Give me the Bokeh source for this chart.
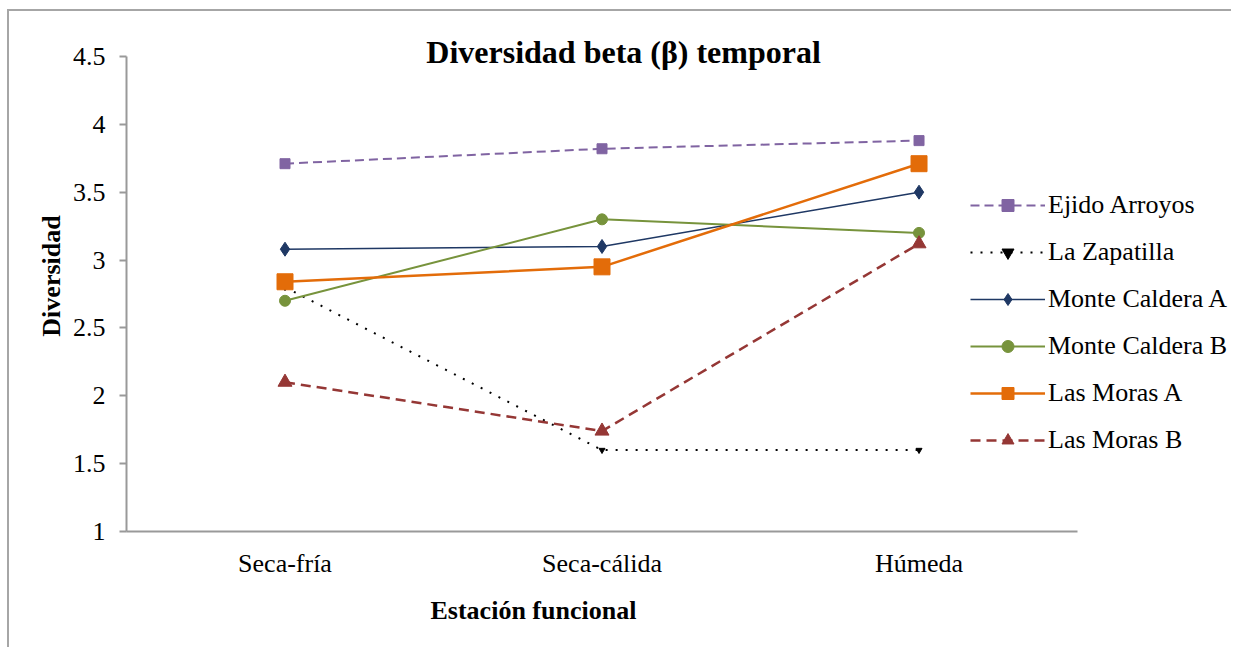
from bokeh.plotting import figure
from bokeh.models import (Range1d, NumeralTickFormatter, FixedTicker, LinearAxis,
                          Legend, LegendItem, Label, ColumnDataSource, Title)
from bokeh.embed import file_html
from bokeh.resources import INLINE

# ---- data ----
categories = ["Seca-fría", "Seca-cálida", "Húmeda"]
ejido_arroyos = [3.71, 3.82, 3.88]
la_zapatilla = [2.80, 1.60, 1.60]
monte_caldera_a = [3.08, 3.10, 3.50]
monte_caldera_b = [2.70, 3.30, 3.20]
las_moras_a = [2.84, 2.95, 3.71]
las_moras_b = [2.10, 1.74, 3.12]
y_ticks = [1, 1.5, 2, 2.5, 3, 3.5, 4, 4.5]

title_text = "Diversidad beta (β) temporal"
x_title = "Estación funcional"
y_title = "Diversidad"

FONT = "Liberation Serif"

# category positions on a numeric scale (centre of each category slot)
xpos = [i + 0.5 for i in range(len(categories))]

p = figure(width=1224, height=638, output_backend="svg", toolbar_location=None,
           x_range=Range1d(0, 3.492), y_range=Range1d(1, 4.765),
           min_border_left=117, min_border_right=0, min_border_top=9, min_border_bottom=118)
p.title.visible = False
p.styles = {"border-left": "2px solid #a6a6a6", "border-top": "2px solid #a6a6a6",
            "margin-left": "7px", "margin-top": "9px"}
p.outline_line_color = None
p.xgrid.grid_line_color = None
p.ygrid.grid_line_color = None
p.background_fill_color = "white"
p.border_fill_color = "white"

# y axis
p.yaxis.ticker = FixedTicker(ticks=y_ticks)
p.yaxis.bounds = (1, 4.5)
p.yaxis.formatter = NumeralTickFormatter(format="0.[0]")
p.yaxis.axis_line_color = "#999999"
p.yaxis.axis_line_width = 2
p.yaxis.major_tick_line_color = "#999999"
p.yaxis.major_tick_line_width = 2
p.yaxis.major_tick_out = 7
p.yaxis.major_tick_in = 0
p.yaxis.minor_tick_line_color = None
p.yaxis.major_label_text_font = FONT
p.yaxis.major_label_text_font_size = "26px"
p.yaxis.major_label_text_color = "black"
p.yaxis.major_label_standoff = 14
p.yaxis.axis_label = y_title
p.yaxis.axis_label_text_font = FONT
p.yaxis.axis_label_text_font_size = "26px"
p.yaxis.axis_label_text_font_style = "bold"
p.yaxis.axis_label_text_color = "black"
p.yaxis.axis_label_standoff = 4

# x axis
p.xaxis.ticker = FixedTicker(ticks=xpos)
p.xaxis.major_label_overrides = {x: c for x, c in zip(xpos, categories)}
p.xaxis.bounds = (0, len(categories))
p.xaxis.axis_line_color = "#999999"
p.xaxis.axis_line_width = 2
p.xaxis.major_tick_line_color = None
p.xaxis.minor_tick_line_color = None
p.xaxis.major_label_text_font = FONT
p.xaxis.major_label_text_font_size = "26px"
p.xaxis.major_label_text_color = "black"
p.xaxis.major_label_standoff = 11

# empty spacer axis (no line, ticks or labels) between tick labels and the axis title
spacer = LinearAxis(ticker=FixedTicker(ticks=[]), axis_line_color=None,
                    major_tick_line_color=None, minor_tick_line_color=None,
                    major_tick_out=9, major_tick_in=0, minor_tick_out=0,
                    major_label_standoff=0)
p.add_layout(spacer, "below")

p.add_layout(Title(text=x_title, align="left", offset=304, text_font=FONT,
                   text_font_size="26px", text_font_style="bold", text_color="black",
                   standoff=26), "below")

series = [
    ("Ejido Arroyos", ejido_arroyos, "#8064A2", "9 5", 2, "square", 10),
    ("La Zapatilla", la_zapatilla, "#000000", "2 8", 2, "inverted_triangle", 6),
    ("Monte Caldera A", monte_caldera_a, "#1F3864", "solid", 1.5, "diamond", 14),
    ("Monte Caldera B", monte_caldera_b, "#77933C", "solid", 2, "circle", 11),
    ("Las Moras A", las_moras_a, "#E36C09", "solid", 2.5, "square", 16),
    ("Las Moras B", las_moras_b, "#953735", "10 6", 2.5, "triangle", 14),
]

items = []
for name, vals, color, dash, lw, marker, size in series:
    src = ColumnDataSource(dict(x=xpos, y=vals))
    lr = p.line("x", "y", source=src, line_color=color, line_width=lw, line_dash=dash)
    sr = p.scatter("x", "y", source=src, marker=marker, size=size,
                   fill_color=color, line_color=color)
    items.append(LegendItem(label=name, renderers=[lr, sr]))

legend = Legend(items=items, location=(844, 76), glyph_width=75, glyph_height=30,
                label_height=30, spacing=17, label_standoff=3, padding=0, margin=0,
                border_line_color=None, background_fill_alpha=0,
                label_text_font=FONT, label_text_font_size="26px",
                label_text_color="black")
p.add_layout(legend, "center")

p.add_layout(Label(x=1.568, y=4.53, text=title_text, text_font=FONT,
                   text_font_size="32px", text_font_style="bold",
                   text_align="center", text_baseline="middle", text_color="black"))

open("out.html", "w").write(file_html(p, INLINE))
